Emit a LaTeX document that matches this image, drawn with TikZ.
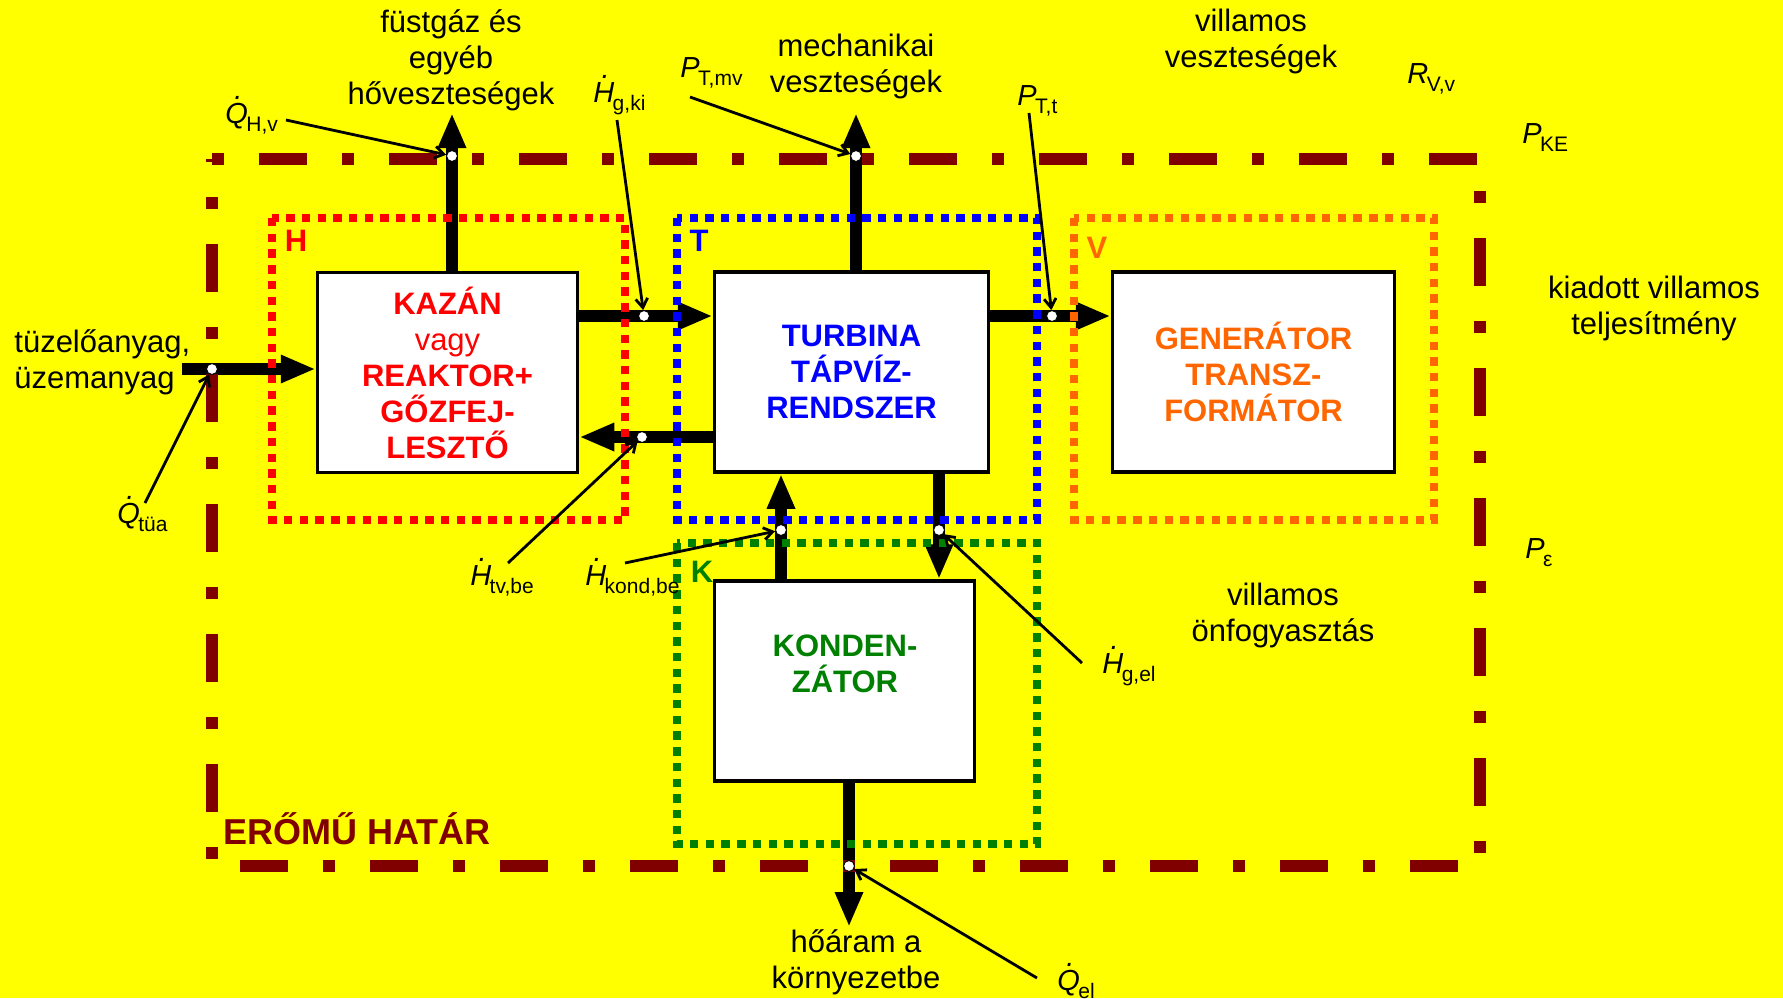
\documentclass[tikz,border=0pt]{standalone}
\usepackage{fontspec}
\setmainfont{Liberation Sans}
\usetikzlibrary{arrows.meta}
\definecolor{bordo}{RGB}{128,0,0}
\definecolor{pred}{RGB}{255,0,0}
\definecolor{pblue}{RGB}{0,0,255}
\definecolor{porange}{RGB}{255,102,0}
\definecolor{pgreen}{RGB}{0,128,0}
\definecolor{pyellow}{RGB}{255,255,0}
\newcommand{\dotacc}[1]{\ooalign{#1\cr\hidewidth\raisebox{0.8em}{\kern0.12em.}\hidewidth\cr}}
\newcommand{\mylbl}[2]{{\fontsize{14.5}{16}\selectfont\itshape #1}\kern-0.08em\raisebox{-4.3pt}{\fontsize{10.5}{12}\selectfont #2}}
\begin{document}
\begin{tikzpicture}[x=0.5pt,y=-0.5pt,
  box/.style={draw=black, line width=1.75pt, fill=white, inner sep=0pt, align=center,
    font=\fontsize{15.5}{18}\selectfont\bfseries},
  txt/.style={inner sep=0pt, align=center, font=\fontsize{15.5}{18}\selectfont},
  ml/.style={inner sep=0pt, anchor=base west},
  tag/.style={inner sep=0pt, font=\fontsize{15.5}{18}\selectfont\bfseries},
  thickarr/.style={line width=6pt, -{Triangle[length=17.5pt,width=13pt]}},
  thinarr/.style={line width=1.4pt, -{Straight Barb[length=4.5pt,width=6pt]}},
  dotbox/.style={line width=4pt, dash pattern=on 4.2pt off 3.65pt},
  outer/.style={line width=6pt, bordo, dash pattern=on 6pt off 17.5pt on 24pt off 17.5pt},
  junc/.style={circle, fill=white, draw=black, line width=0.5pt, inner sep=0pt, minimum size=5.5pt}
]
\fill[pyellow] (0,0) rectangle (1783,998);
\useasboundingbox (0,0) rectangle (1783,998);

% main boxes
\node[box, text=pred, minimum width=130pt, minimum height=100pt] (kazan) at (447.5,372.5)
  {KAZÁN\\{\mdseries vagy}\\REAKTOR+\\GŐZFEJ-\\LESZTŐ};
\node[box, text=pblue, minimum width=137pt, minimum height=100pt] (turb) at (851.5,372)
  {TURBINA\\TÁPVÍZ-\\RENDSZER};
\node[box, text=porange, minimum width=141pt, minimum height=100pt] (gen) at (1253.5,372)
  {GENERÁTOR\\TRANSZ-\\FORMÁTOR};
\node[box, minimum width=130pt, minimum height=100pt] (kond) at (844.5,681) {};
\node[txt, text=pgreen, font=\fontsize{15.5}{18}\selectfont\bfseries] (kondtxt) at (845,664) {KONDEN-\\ZÁTOR};

% junction points
\coordinate (pfuel) at (212,369);
\coordinate (pflue) at (452,156);
\coordinate (pkt) at (644,316);
\coordinate (ptk) at (642,437);
\coordinate (pmech) at (856,156);
\coordinate (ptg) at (1052,316);
\coordinate (pkup) at (781,530);
\coordinate (pkdn) at (939,530);
\coordinate (penv) at (849,866);
\coordinate (fuelstart) at (182,369);
\coordinate (flueend) at (452,113);
\coordinate (mechend) at (856,113);
\coordinate (envend) at (849,927);

% thick arrows
\draw[thickarr] (fuelstart) -- (fuelstart -| kazan.west);
\draw[thickarr] (kazan.north -| flueend) -- (flueend);
\draw[thickarr] (kazan.east |- pkt) -- (turb.west |- pkt);
\draw[thickarr] (turb.west |- ptk) -- (kazan.east |- ptk);
\draw[thickarr] (turb.north -| mechend) -- (mechend);
\draw[thickarr] (turb.east |- ptg) -- (gen.west |- ptg);
\draw[thickarr] (kond.north -| pkup) -- (turb.south -| pkup);
\draw[thickarr] (turb.south -| pkdn) -- (kond.north -| pkdn);
\draw[thickarr] (kond.south -| envend) -- (envend);

% dotted subsystem boundaries
\draw[dotbox, pred] (272,218) rectangle (625,520);
\draw[dotbox, pblue] (677,218) rectangle (1037,520);
\draw[dotbox, porange] (1074,218) rectangle (1434,520);
\draw[dotbox, pgreen] (677,543) rectangle (1037,844);
\node[tag, text=pred] (tH) at (296,241) {H};
\node[tag, text=pblue] (tT) at (699,241) {T};
\node[tag, text=porange] (tV) at (1097,248) {V};
\node[tag, text=pgreen] (tK) at (702,572) {K};

% plant boundary
\draw[outer] (212,159) -- (1480,159) -- (1480,866) -- (212,866) -- cycle;
\node[inner sep=0pt, anchor=west, text=bordo, font=\fontsize{18}{20}\selectfont\bfseries] (hatar) at (223,829) {ERŐMŰ HATÁR};

% junction circles
\node[junc] (cfuel) at (pfuel) {};
\node[junc] (cflue) at (pflue) {};
\node[junc] (ckt) at (pkt) {};
\node[junc] (ctk) at (ptk) {};
\node[junc] (cmech) at (pmech) {};
\node[junc] (ctg) at (ptg) {};
\node[junc] (ckup) at (pkup) {};
\node[junc] (ckdn) at (pkdn) {};
\node[junc] (cenv) at (penv) {};

% texts
\node[txt] (fluetxt) at (451,60) {füstgáz és\\egyéb\\hőveszteségek};
\node[txt] (mechtxt) at (856,66) {mechanikai\\veszteségek};
\node[txt] (villv) at (1251,41) {villamos\\veszteségek};
\node[txt] (kiad) at (1654,308) {kiadott villamos\\teljesítmény};
\node[txt] (onf) at (1283,615) {villamos\\önfogyasztás};
\node[txt, align=left, anchor=west] (fueltxt) at (14,362) {tüzelőanyag,\\üzemanyag};
\node[txt] (envtxt) at (856,962) {hőáram a\\környezetbe};

% symbol labels
\node[ml] (lqhv) at (225,123) {\mylbl{\dotacc{Q}}{H,v}};
\node[ml] (lhgki) at (593,102) {\mylbl{\dotacc{H}}{g,ki}};
\node[ml] (lptmv) at (680,77) {\mylbl{P}{T,mv}};
\node[ml] (lptt) at (1017,105) {\mylbl{P}{T,t}};
\node[ml] (lrvv) at (1407,83) {\mylbl{R}{V,v}};
\node[ml] (lpke) at (1522,143) {\mylbl{P}{KE}};
\node[ml] (lpeps) at (1525,558) {\mylbl{P}{ε}};
\node[ml] (lqtua) at (117,523) {\mylbl{\dotacc{Q}}{tüa}};
\node[ml] (lhtvbe) at (470,585) {\mylbl{\dotacc{H}}{tv,be}};
\node[ml] (lhkond) at (585,585) {\mylbl{\dotacc{H}}{kond,be}};
\node[ml] (lhgel) at (1102,673) {\mylbl{\dotacc{H}}{g,el}};
\node[ml] (lqel) at (1057,990) {\mylbl{\dotacc{Q}}{el}};

% thin pointer arrows
\coordinate (sqhv) at (286,120);
\coordinate (shgki) at (617,120);
\coordinate (sptmv) at (690,97);
\coordinate (sptt) at (1029,113);
\coordinate (sqtua) at (145,503);
\coordinate (shtvbe) at (508,563);
\coordinate (shkond) at (625,563);
\coordinate (shgel) at (1082,663);
\coordinate (sqel) at (1037,978);
\draw[thinarr] (sqhv) -- (cflue);
\draw[thinarr] (shgki) -- (ckt);
\draw[thinarr] (sptmv) -- (cmech);
\draw[thinarr] (sptt) -- (ctg);
\draw[thinarr] (sqtua) -- (cfuel);
\draw[thinarr] (shtvbe) -- (ctk);
\draw[thinarr] (shkond) -- (ckup);
\draw[thinarr] (shgel) -- (ckdn);
\draw[thinarr] (sqel) -- (cenv);
\end{tikzpicture}
\end{document}
